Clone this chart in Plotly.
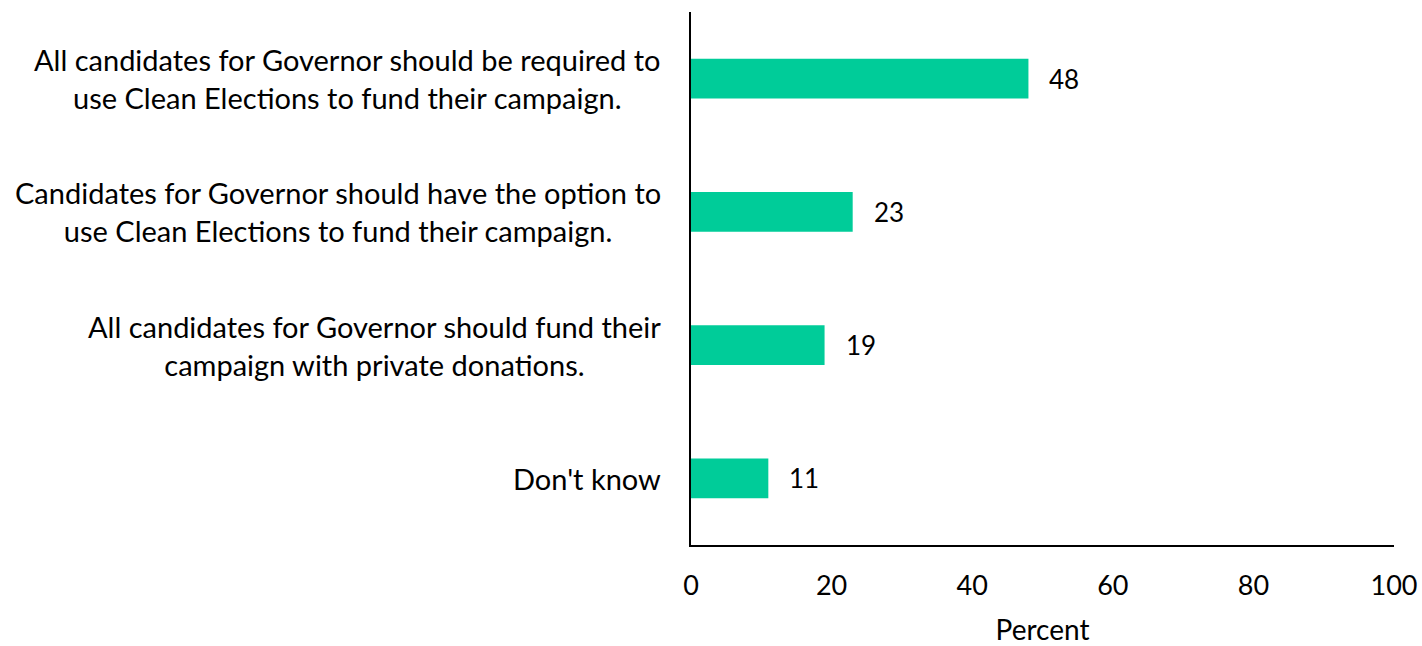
import plotly.graph_objects as go

categories = [
    "All candidates for Governor should be required to<br>use Clean Elections to fund their campaign.",
    "Candidates for Governor should have the option to<br>use Clean Elections to fund their campaign.",
    "All candidates for Governor should fund their<br>campaign with private donations.",
    "Don't know",
]
values = [48, 23, 19, 11]
x_ticks = [0, 20, 40, 60, 80, 100]
x_title = "Percent"

FONT = "Lato"
FS = 29
BAR_COLOR = "#00CC99"

fig = go.Figure()
fig.add_trace(go.Bar(
    x=values,
    y=list(range(len(categories))),
    orientation="h",
    width=0.3,
    marker=dict(color=BAR_COLOR, line=dict(width=0)),
    hoverinfo="skip",
))

annotations = []
for i, (cat, v) in enumerate(zip(categories, values)):
    annotations.append(dict(
        x=0, xref="paper", y=i, yref="y",
        text=cat, showarrow=False, xanchor="right", yanchor="middle",
        align="center", xshift=-28,
        font=dict(family=FONT, size=FS, color="#000000"),
    ))
    annotations.append(dict(
        x=v, xref="x", y=i, yref="y",
        text=str(v), showarrow=False, xanchor="left", yanchor="middle",
        xshift=19,
        font=dict(family=FONT, size=26, color="#000000"),
    ))

fig.update_layout(
    width=1422, height=646,
    margin=dict(l=691, r=28, t=12, b=101, autoexpand=False),
    plot_bgcolor="white", paper_bgcolor="white",
    showlegend=False,
    annotations=annotations,
    font=dict(family=FONT, size=FS, color="#000000"),
    xaxis=dict(
        range=[0, 100], tickvals=x_ticks, ticktext=[str(t) for t in x_ticks],
        showgrid=False, zeroline=False, showline=True, linecolor="#000000", linewidth=2,
        ticks="", ticklabelstandoff=16, automargin=True,
        tickfont=dict(family=FONT, size=27, color="#000000"),
        title=dict(text=x_title, standoff=20, font=dict(family=FONT, size=28, color="#000000")),
    ),
    yaxis=dict(
        range=[3.5, -0.5], showticklabels=False, showgrid=False, zeroline=False,
        showline=True, linecolor="#000000", linewidth=2, ticks="", automargin=False,
    ),
)

fig.write_html("out.html")
